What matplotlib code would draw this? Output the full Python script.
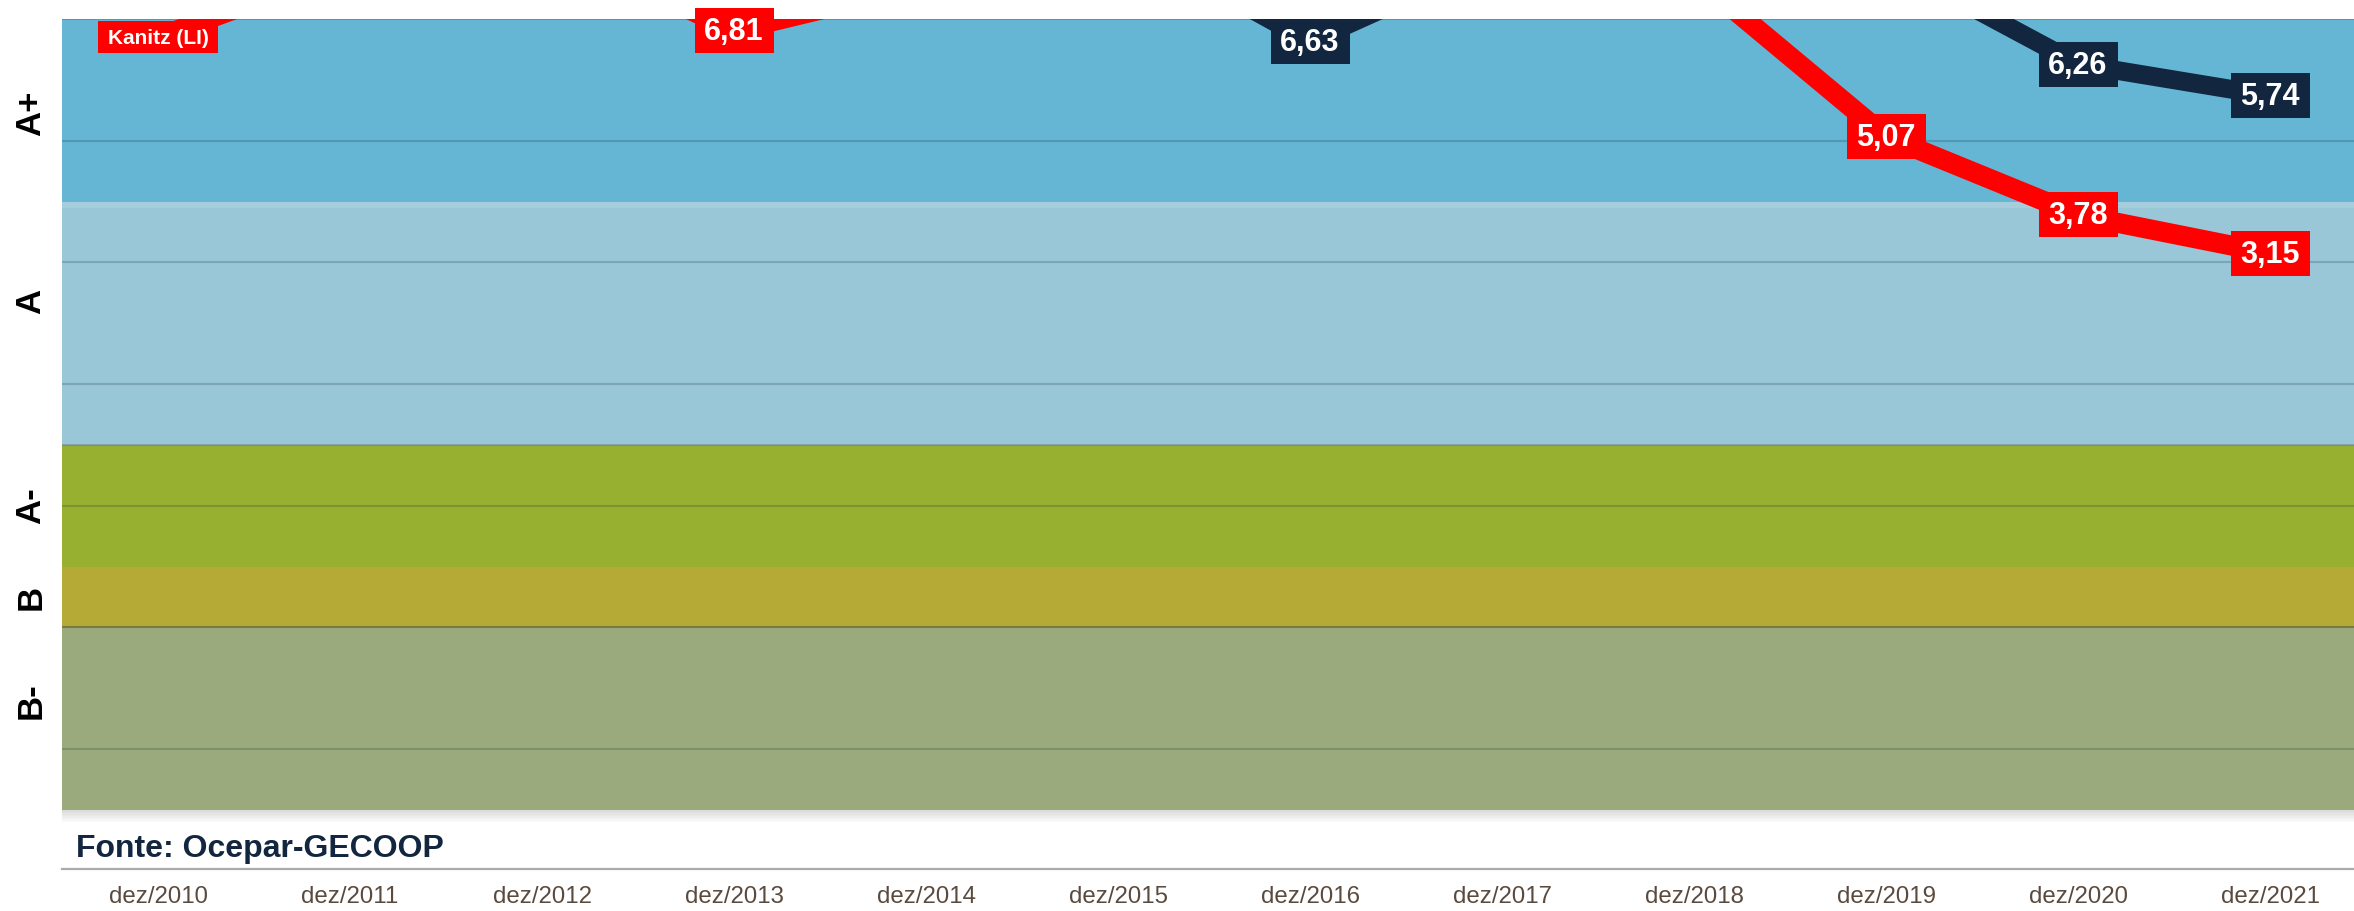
import matplotlib
matplotlib.use("Agg")
import matplotlib.pyplot as plt
import matplotlib.transforms as mtransforms
from matplotlib.patches import Rectangle

plt.rcParams['font.family'] = ['Liberation Sans', 'DejaVu Sans']

# ---------------- data ----------------
periods = ["dez/2010", "dez/2011", "dez/2012", "dez/2013", "dez/2014", "dez/2015",
           "dez/2016", "dez/2017", "dez/2018", "dez/2019", "dez/2020", "dez/2021"]
kanitz_red = [6.70, 7.85, 8.29, 6.81, 7.57, 8.10, 8.40, 8.05, 7.70, 5.07, 3.78, 3.15]
kanitz_navy = [8.60, 8.90, 9.10, 8.80, 8.70, 8.37, 6.63, 8.05, 8.30, 7.95, 6.26, 5.74]
red_name = "Kanitz (LI)"

band_names = ["A+", "A", "A-", "B", "B-"]
band_lower = [4, 0, -2, -3, -6]
band_upper = [7, 4, 0, -2, -3]
band_colors = ["#64b6d4", "#9ac7d7", "#98b030", "#b6aa36", "#9aaa7c"]
band_label_pos = [5.45, 2.35, -1.0, -2.5, -4.2]
grid_values = [7, 5, 3, 1, -1, -3, -5]

source_text = "Fonte: Ocepar-GECOOP"

# ---------------- figure ----------------
W, H, DPI = 2354, 911, 100
fig = plt.figure(figsize=(W / DPI, H / DPI), dpi=DPI)
left_px, right_px, top_px, bottom_px = 62, 2366, 19, 869
ax = fig.add_axes([left_px / W, 1 - bottom_px / H,
                   (right_px - left_px) / W, (bottom_px - top_px) / H])

YMIN, YMAX = -6.97, 7.0
x = list(range(len(periods)))

# bands
for lo, hi, c in zip(band_lower, band_upper, band_colors):
    ax.axhspan(lo, hi, color=c, lw=0, zorder=0)
# subtle band edges / highlight / shadow
ax.axhspan(3.9, 4.0, color="white", alpha=0.12, lw=0, zorder=0.5)
for v, a in [(0, 0.30), (-3, 0.30)]:
    ax.axhline(v, color="#555555", alpha=a, lw=1.5, zorder=0.6)
for i in range(8):
    d = 0.025
    ax.axhspan(-6 - (i + 1) * d, -6 - i * d, color="#808080",
               alpha=0.28 * (1 - i / 8), lw=0, zorder=0.4)

# gridlines
for g in grid_values:
    ax.axhline(g, color="#1a3040", alpha=0.22, lw=1.5, zorder=0.7)

# lines
ax.plot(x, kanitz_navy, color="#13263f", lw=13.5, solid_joinstyle="round",
        solid_capstyle="round", zorder=3)
ax.plot(x, kanitz_red, color="#ff0000", lw=14.4, solid_joinstyle="round",
        solid_capstyle="round", zorder=3.5)


def label_box(xv, yv, text, color, w_px, h_px, fs, z):
    trans = fig.dpi_scale_trans + mtransforms.ScaledTranslation(xv, yv, ax.transData)
    rect = Rectangle((-w_px / 2 / DPI, -h_px / 2 / DPI), w_px / DPI, h_px / DPI,
                     transform=trans, facecolor=color, edgecolor="none",
                     zorder=z, clip_on=False)
    ax.add_patch(rect)
    ttrans = mtransforms.offset_copy(ax.transData, fig=fig, x=0, y=-1.5, units="dots")
    ax.text(xv, yv, text, transform=ttrans, ha="center", va="center",
            color="white", fontsize=fs, fontweight="bold", zorder=z + 0.1,
            clip_on=False)


def fmt(v):
    return f"{v:.2f}".replace(".", ",")


for series, color, name, z in [(kanitz_navy, "#13263f", None, 5),
                               (kanitz_red, "#ff0000", red_name, 6)]:
    for i, v in enumerate(series):
        if v > YMAX:
            continue
        if i == 0 and name is not None:
            label_box(i, v, name, color, 120, 32, 15, z)
        else:
            label_box(i, v, fmt(v), color, 79, 45, 22, z)

ax.set_xlim(-0.5, len(periods) - 0.5)
ax.set_ylim(YMIN, YMAX)

ax.set_xticks(x)
ax.set_xticklabels(periods, fontsize=17.3, color="#5b4a3e")
ax.tick_params(axis="x", length=0, pad=12)
ax.set_yticks([])
for s in ["top", "left", "right"]:
    ax.spines[s].set_visible(False)
ax.spines["bottom"].set_color("#ababab")
ax.spines["bottom"].set_linewidth(1.6)

# band labels (rotated)
btrans = mtransforms.blended_transform_factory(fig.transFigure, ax.transData)
for name, pos in zip(band_names, band_label_pos):
    ax.text(31 / W, pos, name, transform=btrans, rotation=90, ha="center",
            va="center", fontsize=25, fontweight="bold", color="black",
            clip_on=False)

fig.text(76 / W, 1 - 857 / H, source_text, ha="left", va="baseline",
         fontsize=23, fontweight="bold", color="#13263f")

fig.savefig("out.png", dpi=DPI)
